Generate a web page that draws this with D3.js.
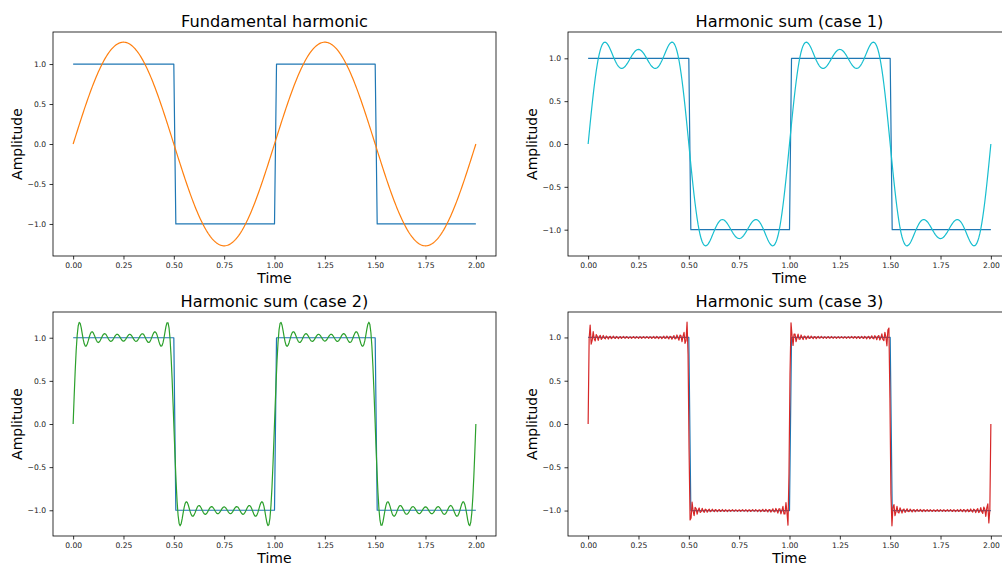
<!DOCTYPE html>
<html>
<head>
<meta charset="utf-8">
<script src="https://cdn.jsdelivr.net/npm/d3@7"></script>
<style>
  body { margin: 0; background: #fff; }
  svg { font-family: "DejaVu Sans", sans-serif; display: block; }
</style>
</head>
<body>
<div id="chart"></div>
<script>
// Panel titles
const titles = ["Fundamental harmonic", "Harmonic sum (case 1)", "Harmonic sum (case 2)", "Harmonic sum (case 3)"];

// Odd harmonics summed in each panel (amplitude of harmonic k is 4/(pi*k))
const harmonicsFundamental = [1];
const harmonicsCase1 = [1, 3, 5];
const harmonicsCase2 = [1, 3, 5, 7, 9, 11, 13, 15];
const harmonicsCase3 = [1, 3, 5, 7, 9, 11, 13, 15, 17, 19, 21, 23, 25, 27, 29,
                        31, 33, 35, 37, 39, 41, 43, 45, 47, 49, 51, 53, 55, 57, 59];
const harmonicSets = [harmonicsFundamental, harmonicsCase1, harmonicsCase2, harmonicsCase3];

const sumColors = ["#ff7f0e", "#17becf", "#2ca02c", "#d62728"];
const squareColor = "#1f77b4";

// Tick labels
const xTicks = [0, 0.25, 0.5, 0.75, 1, 1.25, 1.5, 1.75, 2];
const yTicks = [-1, -0.5, 0, 0.5, 1];

const tStart = 0, tEnd = 2;
const squareSamples = 201;
const sumSamples = 400;

const W = 1002, H = 563;
const panels = [
  { x: 53, y: 32 }, { x: 568, y: 32 },
  { x: 53, y: 312 }, { x: 568, y: 312 }
];
const pw = 443, ph = 224;

const svg = d3.select("#chart").append("svg")
  .attr("width", W)
  .attr("height", H);

const tSquare = d3.range(squareSamples).map(i => tStart + (tEnd - tStart) * i / (squareSamples - 1));
const tSum = d3.range(sumSamples).map(i => tStart + (tEnd - tStart) * i / (sumSamples - 1));

// square wave like scipy.signal.square: +1 where sin >= 0
const squareData = tSquare.map(t => ({ t: t, v: Math.sin(2 * Math.PI * t) >= 0 ? 1 : -1 }));

const minus = s => s.replace("-", "\u2212");

harmonicSets.forEach((harm, i) => {
  const p = panels[i];
  const sumData = tSum.map(t => ({
    t: t,
    v: d3.sum(harm, k => 4 / (Math.PI * k) * Math.sin(2 * Math.PI * k * t))
  }));

  // autoscale with 5% margins
  const lo = Math.min(-1, d3.min(sumData, d => d.v));
  const hi = Math.max(1, d3.max(sumData, d => d.v));
  const yPad = (hi - lo) * 0.05;
  const xPad = (tEnd - tStart) * 0.05;

  const xScale = d3.scaleLinear().domain([tStart - xPad, tEnd + xPad]).range([0, pw]);
  const yScale = d3.scaleLinear().domain([lo - yPad, hi + yPad]).range([ph, 0]);

  const g = svg.append("g").attr("transform", `translate(${p.x},${p.y})`);

  const line = d3.line().x(d => xScale(d.t)).y(d => yScale(d.v));

  g.append("path")
    .attr("d", line(squareData))
    .attr("fill", "none")
    .attr("stroke", squareColor)
    .attr("stroke-width", 1.2)
    .attr("stroke-linejoin", "round");

  g.append("path")
    .attr("d", line(sumData))
    .attr("fill", "none")
    .attr("stroke", sumColors[i])
    .attr("stroke-width", 1.2)
    .attr("stroke-linejoin", "round");

  const xAxis = d3.axisBottom(xScale).tickValues(xTicks)
    .tickFormat(d3.format(".2f")).tickSize(3.5).tickPadding(3.5);
  const yAxis = d3.axisLeft(yScale).tickValues(yTicks)
    .tickFormat(d => minus(d3.format(".1f")(d))).tickSize(3.5).tickPadding(3.5);

  const xg = g.append("g").attr("transform", `translate(0,${ph})`).call(xAxis);
  const yg = g.append("g").call(yAxis);
  [xg, yg].forEach(a => {
    a.select(".domain").remove();
    a.selectAll("line").attr("stroke", "#000").attr("stroke-width", 0.8);
    a.selectAll("text").attr("fill", "#222").style("font-size", "7.6px")
      .style("font-family", "DejaVu Sans, sans-serif");
  });

  // spines
  g.append("rect")
    .attr("width", pw).attr("height", ph)
    .attr("fill", "none").attr("stroke", "#000").attr("stroke-width", 0.8);

  g.append("text")
    .attr("x", pw / 2).attr("y", -5)
    .attr("text-anchor", "middle")
    .style("font-size", "16.2px")
    .text(titles[i]);

  g.append("text")
    .attr("x", pw / 2).attr("y", ph + 26.5)
    .attr("text-anchor", "middle")
    .style("font-size", "14px")
    .text("Time");

  g.append("text")
    .attr("transform", `translate(-31,${ph / 2}) rotate(-90)`)
    .attr("text-anchor", "middle")
    .style("font-size", "14px")
    .text("Amplitude");
});
</script>
</body>
</html>
